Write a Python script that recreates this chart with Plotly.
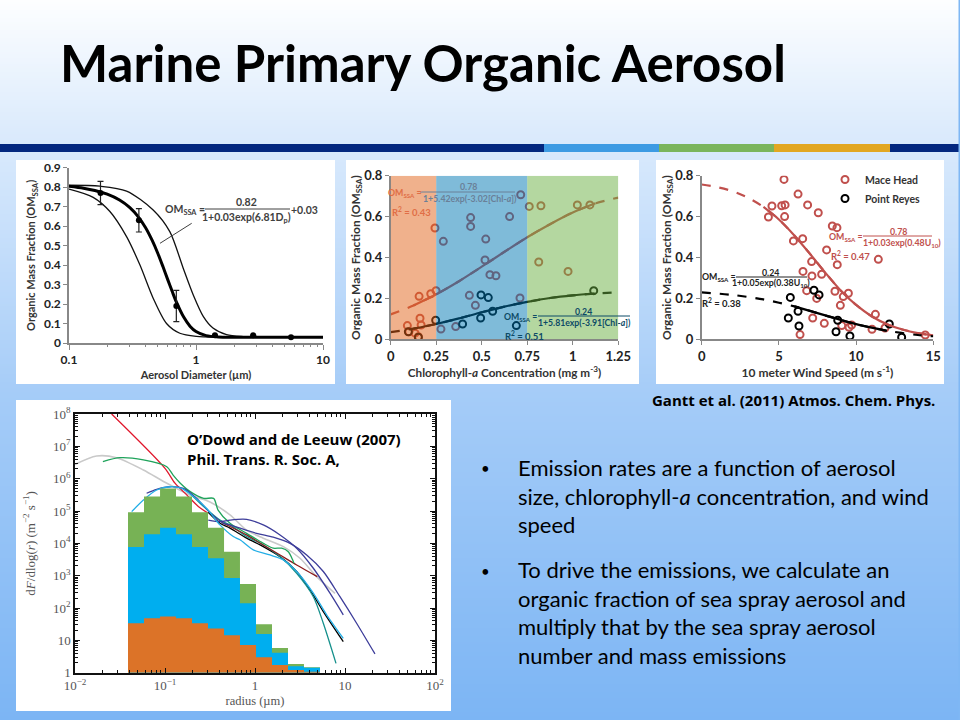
import numpy as np
import plotly.graph_objects as go

# ---------- Panel 1: organic fraction vs diameter ----------
dp_obs = [0.177, 0.355, 0.70, 1.41, 2.82, 5.6]
om_obs = [0.77, 0.63, 0.19, 0.04, 0.04, 0.03]
om_err = [0.06, 0.06, 0.08, 0, 0, 0]
dp_fit = [0.1, 0.13, 0.16, 0.2, 0.25, 0.3, 0.35, 0.4, 0.45, 0.5, 0.55, 0.6, 0.65, 0.7, 0.8, 0.9, 1.0, 1.2, 1.5, 2, 3, 5, 10]
om_fit = [0.805, 0.795, 0.783, 0.764, 0.734, 0.696, 0.649, 0.593, 0.529, 0.461, 0.391, 0.324, 0.264, 0.211, 0.133, 0.085, 0.059, 0.038, 0.031, 0.03, 0.03, 0.03, 0.03]
dp_hi = [0.1, 0.175, 0.284, 0.46, 0.622, 0.793, 0.95, 1.14, 1.36, 1.74, 2.35, 4, 10]
om_hi = [0.81, 0.805, 0.78, 0.683, 0.572, 0.384, 0.248, 0.137, 0.077, 0.043, 0.033, 0.03, 0.03]
dp_lo = [0.1, 0.155, 0.21, 0.284, 0.362, 0.46, 0.586, 0.746, 1.01, 1.5, 3, 10]
om_lo = [0.79, 0.748, 0.675, 0.546, 0.40, 0.23, 0.10, 0.05, 0.034, 0.03, 0.03, 0.03]

# ---------- Panel 2: organic fraction vs chlorophyll ----------
chl_red = [.0915, .10, .156, .161, .167, .134, .152, .22, .249, .243, .289, .276, .357, .432, .439, .439, .465, .522, .518, .545, .578, .653, .71, .714, .761, .825, .813, .974, 1.025, 1.094]
om_red = [.067, .037, .21, .103, .07, .03, .013, .223, .238, .544, .479, .05, .062, .215, .595, .552, .166, .49, .388, .316, .311, .60, .202, .707, .65, .653, .378, .332, .657, .657]
chl_blk = [.097, .152, .247, .395, .496, .536, .494, .56, .69, 1.115]
om_blk = [.037, .01, .093, .075, .217, .204, .104, .137, .067, .238]
chl_red_fit = [0, .125, .25, .375, .5, .625, .75, .875, 1.0, 1.125, 1.25]
om_red_fit = [.122, .165, .22, .284, .355, .428, .499, .563, .62, .665, .693]
chl_blk_fit = [0, .125, .25, .375, .5, .625, .75, .875, 1.0, 1.125, 1.25]
om_blk_fit = [.035, .052, .075, .102, .132, .16, .183, .202, .215, .224, .23]
band_edges = [0, 0.25, 0.75, 1.25]
band_colors = ["rgba(225,100,25,0.5)", "rgba(0,120,180,0.5)", "rgba(105,175,65,0.5)"]

# ---------- Panel 3: organic fraction vs wind speed ----------
u_mh = [5.33, 4.32, 4.55, 5.18, 5.40, 5.37, 6.24, 6.86, 7.55, 8.46, 8.76, 5.94, 6.54, 8.09, 8.78, 11.44, 7.12, 6.56, 7.14, 7.77, 6.8, 7.45, 8.63, 9.17, 9.5, 8.98, 7.19, 7.94, 6.37, 9.07, 9.54, 9.71, 11.03, 11.25, 11.87, 14.48]
om_mh = [.782, .598, .652, .653, .657, .60, .71, .657, .619, .554, .546, .481, .492, .437, .365, .391, .38, .332, .31, .318, .238, .2, .235, .209, .225, .166, .104, .078, .023, .067, .059, .07, .049, .122, .055, .021]
u_pr = [5.74, 5.61, 6.24, 6.30, 7.27, 7.6, 8.81, 8.7, 9.6, 12.15, 12.95]
om_pr = [.205, .104, .137, .065, .24, .217, .093, .037, .016, .075, .01]
u_mh_fit = [0, 1, 2, 3, 4, 5, 6, 7, 8, 9, 10, 11, 12, 13, 14, 15]
om_mh_fit = [.757, .744, .724, .692, .647, .586, .508, .419, .326, .239, .168, .113, .074, .048, .03, .019]
u_pr_fit = [0, 2, 4, 6, 8, 10, 12, 14, 15]
om_pr_fit = [.229, .217, .195, .161, .117, .074, .042, .021, .015]

# ---------- Panel 4: sea spray source functions (log10 readings) ----------
bin_edges = [-1.411, -1.233, -1.055, -.878, -.7, -.522, -.344, -.167, .011, .189, .367, .544, .722]
green_top = [4.96, 5.45, 5.70, 5.45, 4.96, 4.48, 3.74, 2.74, 1.50, 0.76, 0.27, 0.165]
blue_top = [3.89, 4.28, 4.48, 4.28, 3.89, 3.54, 2.93, 2.15, 1.20, 0.62, 0.20, 0.15]
orange_top = [1.53, 1.68, 1.74, 1.68, 1.53, 1.37, 1.16, 0.86, 0.48, 0.24, 0.08, 0.03]

red_r = [-1.593, -1.0, -.889, -.759, -.63, -.52]
red_f = [8.0, 6.32, 5.86, 5.50, 5.14, 4.93]
gray_r = [-2, -1.76, -1.54, -1.24, -1, -.72, -.5, -.278, -.093, .092, .315, .5, .685, .889]
gray_f = [6.44, 6.70, 6.65, 6.27, 5.89, 5.49, 5.28, 4.88, 4.41, 4.16, 3.9, 3.54, 2.97, 2.45]
green_r = [-1.69, -1.5, -1.24, -.98, -.91, -.83, -.72, -.57, -.46, -.41, -.278, -.093, .092, .203, .296, .37, .418, .433]
green_f = [6.53, 6.65, 6.58, 6.37, 6.11, 5.86, 5.6, 5.39, 5.39, 5.03, 4.62, 4.31, 4.0, 3.85, 3.85, 3.74, 3.49, 3.38]
cyan_r = [-1.37, -1.24, -1.093, -.944, -.815, -.685, -.537, -.389, -.241, -.167, -.019, .166, .315, .463, .648, .796, .981]
cyan_f = [4.98, 5.34, 5.65, 5.75, 5.70, 5.45, 5.08, 4.57, 4.21, 4.11, 3.80, 3.64, 3.49, 3.13, 2.46, 1.79, 1.06]
black_r = [-.52, -.389, -.278, -.093, .092, .278, .463, .611, .759, .981]
black_f = [4.96, 4.62, 4.47, 4.16, 3.9, 3.59, 3.13, 2.56, 1.89, .96]
dred_r = [-.37, -.278, -.093, .092, .278, .463, .692]
dred_f = [4.65, 4.52, 4.26, 3.95, 3.64, 3.33, 2.97]
teal_r = [-.778, -.611, -.389, -.278, -.093, .092, .278, .463, .648, .759, .9]
teal_f = [5.70, 5.24, 4.72, 4.57, 4.21, 3.95, 3.59, 3.07, 2.35, 1.53, .29]
purple1_r = [-.519, -.389, -.278, -.093, .092, .278, .463, .648, .833, .981]
purple1_f = [4.72, 4.67, 4.72, 4.74, 4.57, 4.26, 3.85, 3.23, 2.46, 1.79]
purple2_r = [-1.204, -1.093, -.944, -.796, -.648, -.5, -.35, -.278, .018, .203, .389, .574, .759, .944, 1.129, 1.333]
purple2_f = [5.55, 5.67, 5.75, 5.70, 5.39, 4.95, 4.62, 4.57, 4.31, 4.19, 4.0, 3.64, 3.13, 2.35, 1.53, .58]

title_text = "Marine Primary Organic Aerosol"
bullet_1 = "Emission rates are a function of aerosol<br>size, chlorophyll-<i>a</i> concentration, and wind<br>speed"
bullet_2 = "To drive the emissions, we calculate an<br>organic fraction of sea spray aerosol and<br>multiply that by the sea spray aerosol<br>number and mass emissions"
citation_gantt = "Gantt et al. (2011) Atmos. Chem. Phys."
citation_odowd_1 = "O’Dowd and de Leeuw (2007)"
citation_odowd_2 = "Phil. Trans. R. Soc. A,"

W, H = 960, 720
def fx(px): return px / W
def fy(py): return 1 - py / H

fig = go.Figure()
shapes, notes = [], []

def rect(x0, y0, x1, y1, color):
    shapes.append(dict(type="rect", xref="paper", yref="paper", x0=fx(x0), x1=fx(x1), y0=fy(y0), y1=fy(y1),
                       fillcolor=color, line_width=0, layer="below"))

# slide gradient
stops_y = [0, 130, 150, 395, 720]
stops_c = [(253, 254, 255), (220, 235, 252), (216, 233, 252), (165, 204, 248), (124, 181, 244)]
for y in range(0, 720, 2):
    c = [int(round(np.interp(y + 1, stops_y, [s[i] for s in stops_c]))) for i in range(3)]
    rect(0, y, 960, 720, f"rgb({c[0]},{c[1]},{c[2]})")
# title rule
for x0, x1, c in [(0, 544, "#03277f"), (544, 659, "#3d9be3"), (659, 774, "#7ab55c"), (774, 890, "#e2a722"), (890, 960, "#03277f")]:
    rect(x0, 144, x1, 152, c)
# white panels
rect(16, 160, 335, 384, "white")
rect(346, 160, 639, 384, "white")
rect(656, 160, 944, 384, "white")
rect(16, 400, 451, 711, "white")

def text(px, py, s, size=10.5, color="#404040", bold=True, anchor="center", family="Lato", valign="middle"):
    if anchor == "left":
        px -= 2.5
    notes.append(dict(xref="paper", yref="paper", x=fx(px), y=fy(py), text=s, showarrow=False, xanchor=anchor, yanchor=valign,
                      align="left" if anchor == "left" else "center",
                      font=dict(family=family, size=size, color=color, weight="bold" if bold else "normal")))

def pline(x0, y0, x1, y1, color, w=1):
    shapes.append(dict(type="line", xref="paper", yref="paper", x0=fx(x0), x1=fx(x1), y0=fy(y0), y1=fy(y1),
                       line=dict(color=color, width=w), layer="above"))

def domain(x0, x1, ytop, ybot):
    return [fx(x0), fx(x1)], [fy(ybot), fy(ytop)]

def line(x, y, xa, ya, color, w, dash="solid", spline=True):
    fig.add_trace(go.Scatter(x=x, y=y, xaxis=xa, yaxis=ya, mode="lines", showlegend=False, hoverinfo="skip",
                             line=dict(color=color, width=w, dash=dash, shape="spline" if spline else "linear", smoothing=0.8)))

def pts(x, y, xa, ya, color, name=None, legend=False):
    fig.add_trace(go.Scatter(x=x, y=y, xaxis=xa, yaxis=ya, mode="markers", name=name, showlegend=legend,
                             marker=dict(symbol="circle-open", size=7, color=color, line=dict(color=color, width=2))))

# --- Panel 1
line(dp_hi, om_hi, "x", "y", "#111111", 1.3)
line(dp_lo, om_lo, "x", "y", "#111111", 1.3)
line(dp_fit, om_fit, "x", "y", "#000000", 3)
fig.add_trace(go.Scatter(x=dp_obs, y=om_obs, xaxis="x", yaxis="y", mode="markers", showlegend=False,
                         marker=dict(color="#000", size=6),
                         error_y=dict(type="data", array=om_err, color="#222", thickness=1.2, width=3)))
# --- Panel 2
pts(chl_red, om_red, "x2", "y2", "#c0504d")
pts(chl_blk, om_blk, "x2", "y2", "#000000")
line(chl_red_fit, om_red_fit, "x2", "y2", "#c0504d", 2.2, "dash")
line(chl_red_fit[1:-1], om_red_fit[1:-1], "x2", "y2", "#c0504d", 2.2)
line(chl_blk_fit, om_blk_fit, "x2", "y2", "#000000", 2.2, "dash")
line(chl_blk_fit[1:-1], om_blk_fit[1:-1], "x2", "y2", "#000000", 2.2)
for i, c in enumerate(band_colors):
    shapes.append(dict(type="rect", xref="x2", yref="y2", x0=band_edges[i], x1=band_edges[i + 1], y0=0, y1=0.8,
                       fillcolor=c, line_width=0, layer="above"))
# --- Panel 3
pts(u_mh, om_mh, "x3", "y3", "#c0504d", "Mace Head", True)
pts(u_pr, om_pr, "x3", "y3", "#000000", "Point Reyes", True)
line(u_mh_fit, om_mh_fit, "x3", "y3", "#c0504d", 2.2, "dash")
line(u_mh_fit[4:], om_mh_fit[4:], "x3", "y3", "#c0504d", 2.2)
line(u_pr_fit, om_pr_fit, "x3", "y3", "#000000", 2.2, "dash")
line(u_pr_fit[3:-2], om_pr_fit[3:-2], "x3", "y3", "#000000", 2.2)
# --- Panel 4
def curve(r, f, color, w=1.3):
    line([10 ** v for v in r], [10 ** v for v in f], "x4", "y4", color, w)
curve(gray_r, gray_f, "#c9c9c9", 1.6)
curve(black_r, black_f, "#000000")
curve(teal_r, teal_f, "#16908c")
curve(red_r, red_f, "#e0182d")
curve(dred_r, dred_f, "#8c1c1c")
curve(green_r, green_f, "#1fa35b")
curve(purple1_r, purple1_f, "#3d3d9a")
curve(purple2_r, purple2_f, "#3d3d9a")
curve(cyan_r, cyan_f, "#23aee6")
def step(top, color):
    xs, ys = [10 ** bin_edges[0]], [1]
    for i, v in enumerate(top):
        xs += [10 ** bin_edges[i], 10 ** bin_edges[i + 1]]
        ys += [10 ** v, 10 ** v]
    xs.append(10 ** bin_edges[-1]); ys.append(1)
    fig.add_trace(go.Scatter(x=xs, y=ys, xaxis="x4", yaxis="y4", mode="lines", fill="toself", fillcolor=color,
                             line=dict(width=0), showlegend=False, hoverinfo="skip"))
step(green_top, "#77b255")
step(blue_top, "#00aeef")
step(orange_top, "#dc7328")

# --- Equation labels
def fraction(om_x, om_y, num_x, num_y, den_x, den_y, lx0, lx1, ly, num, den, c, size=10, cden=None):
    text(om_x, om_y, "OM<sub>SSA</sub> =", size, c)
    text(num_x, num_y, num, size, cden or c)
    text(den_x, den_y, den, size, cden or c)
    pline(lx0, ly, lx1, ly, cden or c, 1)

fraction(185, 210, 247, 202, 247, 218, 205, 290, 209, "0.82", "1+0.03exp(6.81D<sub>p</sub>)", "#404040", 10.5)
text(304, 210, "+0.03", 10.5)
pline(191.7, 223.3, 160, 243.3, "#404040", 1)
fraction(405, 193, 468, 187, 470, 198, 420, 515, 192, "0.78", "1+5.42exp(-3.02[Chl-<i>a</i>])", "#e06e46", 8.8, "#6a8098")
text(411, 211, "R<sup>2</sup> = 0.43", 9.5, "#e06e46")
fraction(520, 317, 583, 311, 584, 322, 538, 630, 316, "0.24", "1+5.81exp(-3.91[Chl-<i>a</i>])", "#0d4a66", 8.7)
text(524, 335, "R<sup>2</sup> = 0.51", 9.5, "#0d4a66")
fraction(846, 237, 898, 232, 902, 243, 863, 932, 236, "0.78", "1+0.03exp(0.48U<sub>10</sub>)", "#c0504d", 8.8)
text(850, 255, "R<sup>2</sup> = 0.47", 9.5, "#c0504d")
fraction(719, 277, 770, 272, 771, 283, 736, 807, 277, "0.24", "1+0.05exp(0.38U<sub>10</sub>)", "#222222", 8.8)
text(721, 302, "R<sup>2</sup> = 0.38", 9.5, "#222222")

# --- Slide text
text(60, 62, title_text, 51, "#000000", True, "left")
text(652, 400, citation_gantt, 15, "#000000", True, "left", "Open Sans")
text(187, 439, citation_odowd_1, 15, "#000000", True, "left", "Open Sans")
text(187, 459, citation_odowd_2, 15, "#000000", True, "left", "Open Sans")
text(518, 495.5, bullet_1, 22, "#000000", False, "left")
text(518, 612.5, bullet_2, 22, "#000000", False, "left")
text(485, 468, "•", 15, "#000000", False)
text(485, 571, "•", 15, "#000000", False)
rect(958.5, 0, 960, 720, "#7fb7f4")

# --- Axes
def ax(**kw):
    base = dict(showgrid=False, zeroline=False, ticks="outside", linewidth=1.5,
                linecolor="#888888", tickcolor="#888888", ticklen=4, showline=True)
    base.update(kw)
    return base

tf = lambda s, c="#222222": dict(family="Lato", size=s, color=c, weight="bold")
def ttl(s, size, standoff, c="#333333", fam="Lato", bold=True):
    return dict(text=s, standoff=standoff, font=dict(family=fam, size=size, color=c, weight="bold" if bold else "normal"))

minor_log = [m * d for d in (0.1, 1) for m in range(2, 10)]
dx, dy = domain(69, 323, 167.7, 343)
fig.update_layout(
    xaxis=ax(domain=dx, anchor="y", type="log", range=[-1, 1], tickvals=[0.1, 1, 10], ticktext=["0.1", "1", "10"], tickfont=tf(12), ticklen=5,
             minor=dict(tickmode="array", tickvals=minor_log, ticks="outside", ticklen=2.5, tickcolor="#888888"),
             title=ttl("Aerosol Diameter (µm)", 11, 5)),
    yaxis=ax(domain=dy, anchor="x", range=[0, 0.9], tickvals=[0, .1, .2, .3, .4, .5, .6, .7, .8, .9],
             ticktext=["0", "0.1", "0.2", "0.3", "0.4", "0.5", "0.6", "0.7", "0.8", "0.9"], tickfont=tf(12),
             title=ttl("Organic Mass Fraction (OM<sub>SSA</sub>)", 11, 6)),
)
dx, dy = domain(390.7, 618.3, 175.7, 339.3)
fig.update_layout(
    xaxis2=ax(domain=dx, anchor="y2", range=[0, 1.25], tickvals=[0, .25, .5, .75, 1, 1.25], ticktext=["0", "0.25", "0.5", "0.75", "1", "1.25"],
              tickfont=tf(13), title=ttl("Chlorophyll-<i>a</i> Concentration (mg m<sup>-3</sup>)", 11.7, 1)),
    yaxis2=ax(domain=dy, anchor="x2", range=[0, 0.8], tickvals=[0, .2, .4, .6, .8], ticktext=["0", "0.2", "0.4", "0.6", "0.8"],
              tickfont=tf(13), title=ttl("Organic Mass Fraction (OM<sub>SSA</sub>)", 12, 0)),
)
dx, dy = domain(701.7, 933.3, 175.7, 339.3)
fig.update_layout(
    xaxis3=ax(domain=dx, anchor="y3", range=[0, 15], tickvals=[0, 5, 10, 15], ticktext=["0", "5", "10", "15"],
              tickfont=tf(13), title=ttl("10 meter Wind Speed (m s<sup>-1</sup>)", 12, 1)),
    yaxis3=ax(domain=dy, anchor="x3", range=[0, 0.8], tickvals=[0, .2, .4, .6, .8], ticktext=["0", "0.2", "0.4", "0.6", "0.8"],
              tickfont=tf(13), title=ttl("Organic Mass Fraction (OM<sub>SSA</sub>)", 12, 0)),
)
dx, dy = domain(75, 435, 414, 672.7)
minor_x4 = [m * 10.0 ** d for d in range(-2, 2) for m in range(2, 10)]
minor_y4 = [m * 10.0 ** d for d in range(0, 8) for m in range(2, 10)]
sf = dict(family="Liberation Serif", size=13, color="#555555")
fig.update_layout(
    xaxis4=dict(domain=dx, anchor="y4", type="log", range=[-2, 2], showgrid=False, zeroline=False, showline=True, mirror="ticks",
                linecolor="#111111", linewidth=1.5, ticks="inside", ticklen=5, tickcolor="#111111",
                tickvals=[0.01, 0.1, 1, 10, 100], ticktext=["10<sup>−2</sup>", "10<sup>−1</sup>", "1", "10", "10<sup>2</sup>"], tickfont=sf,
                minor=dict(tickmode="array", tickvals=minor_x4, ticks="inside", ticklen=3, tickcolor="#111111"),
                title=dict(text="radius (µm)", standoff=4, font=dict(family="Liberation Serif", size=12.5, color="#555555"))),
    yaxis4=dict(domain=dy, anchor="x4", type="log", range=[0, 8], showgrid=False, zeroline=False, showline=True, mirror="ticks",
                linecolor="#111111", linewidth=1.5, ticks="inside", ticklen=5, tickcolor="#111111",
                tickvals=[10 ** i for i in range(9)], ticktext=["1", "10"] + [f"10<sup>{i}</sup>" for i in range(2, 9)], tickfont=sf,
                minor=dict(tickmode="array", tickvals=minor_y4, ticks="inside", ticklen=3, tickcolor="#111111"),
                title=dict(text="d<i>F</i>/dlog(<i>r</i>) (m<sup>−2</sup> s<sup>−1</sup>)", standoff=15,
                           font=dict(family="Liberation Serif", size=13, color="#555555"))),
)
fig.update_layout(
    width=W, height=H, margin=dict(l=0, r=0, t=0, b=0, autoexpand=False), autosize=False,
    paper_bgcolor="white", plot_bgcolor="rgba(0,0,0,0)", shapes=shapes, annotations=notes,
    legend=dict(x=fx(825), y=fy(165), xanchor="left", yanchor="top", bgcolor="rgba(0,0,0,0)", borderwidth=0,
                font=dict(family="Lato", size=10.5, color="#333333", weight="bold"), tracegroupgap=0),
)
fig.write_html("out.html", config=dict(displayModeBar=False),
               post_script="document.body.style.margin='0';document.body.style.overflow='hidden';")
